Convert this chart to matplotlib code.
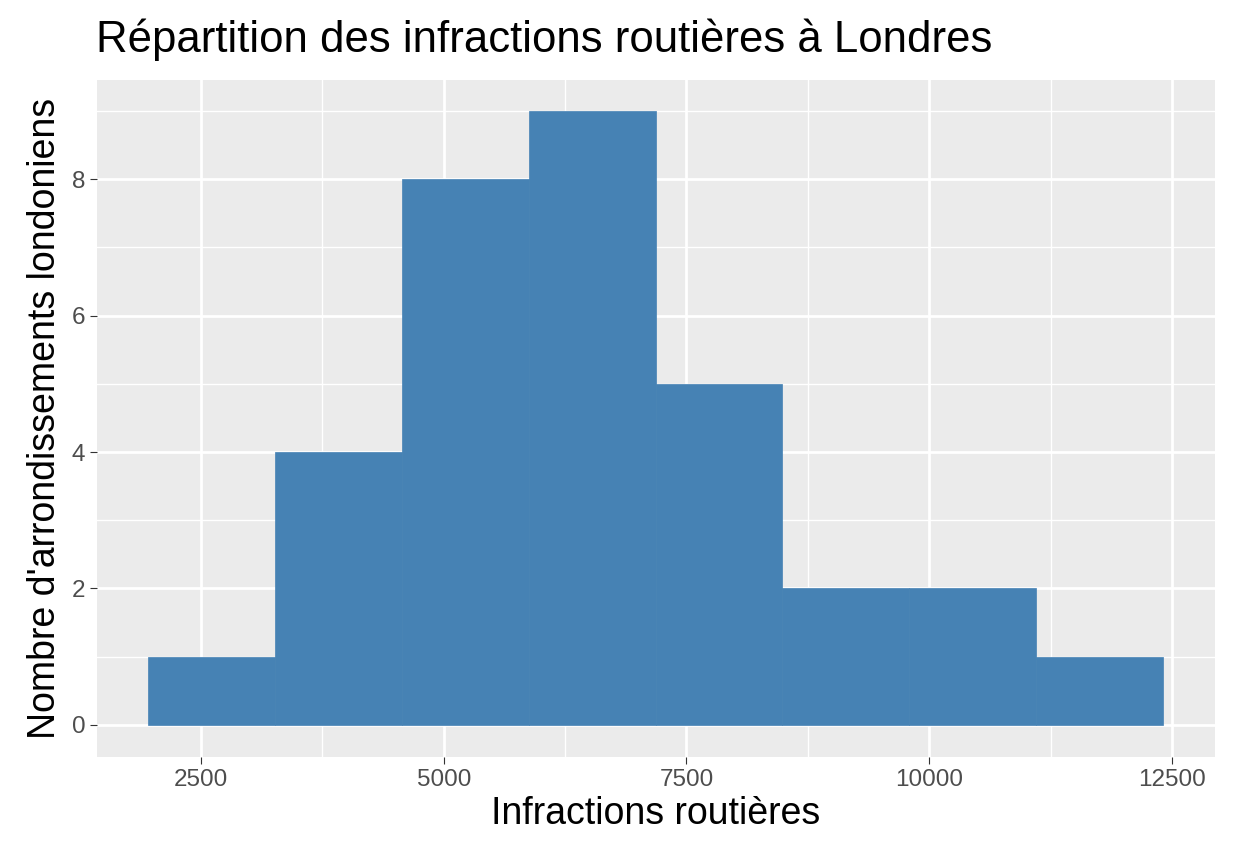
import matplotlib
matplotlib.use("Agg")
import matplotlib.pyplot as plt
import numpy as np

plt.rcParams['font.family'] = ['Liberation Sans', 'DejaVu Sans']

bin_edges = [1955, 3261, 4568, 5875, 7181, 8488, 9794, 11101, 12407]
counts = [1, 4, 8, 9, 5, 2, 2, 1]
xticks = [2500, 5000, 7500, 10000, 12500]
yticks = [0, 2, 4, 6, 8]

fig = plt.figure(figsize=(12.34, 8.64), dpi=100)
ax = fig.add_axes([0.0786, 0.124, 0.906, 0.783])
ax.set_facecolor("#EBEBEB")
edges = np.array(bin_edges)
ax.bar(edges[:-1], counts, width=np.diff(edges), align="edge", color="#4682B4",
       edgecolor="#4682B4", linewidth=0.5, zorder=3)
ax.set_xlim(1430, 12942)
ax.set_ylim(-0.47, 9.45)
ax.set_xticks(xticks)
ax.set_xticklabels([str(t) for t in xticks])
ax.set_yticks(yticks)
ax.set_xticks([3750, 6250, 8750, 11250], minor=True)
ax.set_yticks([1, 3, 5, 7, 9], minor=True)
ax.grid(which="major", color="white", linewidth=2.0, zorder=0)
ax.grid(which="minor", color="white", linewidth=1.0, zorder=0)
ax.set_axisbelow(True)
for s in ax.spines.values():
    s.set_visible(False)
ax.tick_params(which="major", length=5, color="#333333", labelsize=17.5, labelcolor="#4D4D4D")
ax.tick_params(which="minor", length=0)
ax.set_xlabel("Infractions routières", fontsize=27, labelpad=4)
ax.set_ylabel("Nombre d'arrondissements londoniens", fontsize=27, labelpad=6)
fig.text(0.078, 0.94, "Répartition des infractions routières à Londres", fontsize=31.5)
fig.savefig("out.png", dpi=100)
